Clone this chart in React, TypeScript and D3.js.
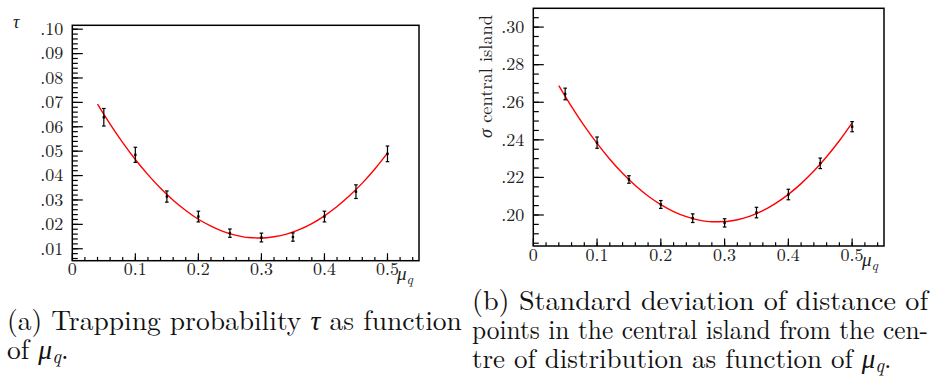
import React from "react";
import * as d3 from "d3";

// ---------- data ----------
const muQ = [0.05, 0.1, 0.15, 0.2, 0.25, 0.3, 0.35, 0.4, 0.45, 0.5];
const tauValues = [0.0639, 0.0485, 0.0314, 0.0232, 0.0164, 0.0146, 0.0148, 0.0232, 0.0334, 0.0489];
const tauErrors = [0.0036, 0.0031, 0.0023, 0.0022, 0.0017, 0.0018, 0.0017, 0.0022, 0.0028, 0.0032];
const sigmaValues = [0.2644, 0.2385, 0.2189, 0.2056, 0.1983, 0.1958, 0.2013, 0.2109, 0.2275, 0.247];
const sigmaErrors = [0.0031, 0.003, 0.002, 0.0021, 0.0023, 0.0022, 0.0028, 0.0028, 0.0028, 0.0027];

// fit curves
const fitX = [0.04, 0.06, 0.08, 0.1, 0.12, 0.14, 0.16, 0.18, 0.2, 0.22, 0.24, 0.26, 0.28, 0.3, 0.32, 0.34, 0.36, 0.38, 0.4, 0.42, 0.44, 0.46, 0.48, 0.5];
const tauFit = [0.0693, 0.0611, 0.0535, 0.0466, 0.0404, 0.0348, 0.0299, 0.0257, 0.0221, 0.0193, 0.017, 0.0155, 0.0146, 0.0144, 0.0149, 0.016, 0.0178, 0.0203, 0.0235, 0.0273, 0.0318, 0.0369, 0.0427, 0.0492];
const sigmaFit = [0.2689, 0.2577, 0.2474, 0.2381, 0.2297, 0.2222, 0.2157, 0.2101, 0.2055, 0.2018, 0.1991, 0.1973, 0.1964, 0.1965, 0.1975, 0.1994, 0.2023, 0.2062, 0.211, 0.2167, 0.2234, 0.231, 0.2395, 0.249];

const xTicks = [0, 0.1, 0.2, 0.3, 0.4, 0.5];
const xTickLabels = ["0", "0.1", "0.2", "0.3", "0.4", "0.5"];
const tauTicks = [0.01, 0.02, 0.03, 0.04, 0.05, 0.06, 0.07, 0.08, 0.09, 0.1];
const tauTickLabels = [".01", ".02", ".03", ".04", ".05", ".06", ".07", ".08", ".09", ".10"];
const sigmaTicks = [0.2, 0.22, 0.24, 0.26, 0.28, 0.3];
const sigmaTickLabels = [".20", ".22", ".24", ".26", ".28", ".30"];

const fontStyle = { fontFamily: "Latin Modern Roman" };
const greekStyle = { fontFamily: "Liberation Serif", fontStyle: "italic" as const };
const italStyle = { fontFamily: "Latin Modern Roman", fontStyle: "italic" as const };

type PanelProps = {
  x0: number; x1: number; yTop: number; yBot: number;
  yDomain: [number, number];
  values: number[]; errors: number[]; fit: number[];
  yTicks: number[]; yTickLabels: string[];
  yMinorStep: number; yMinorStart: number; yMinorEnd: number;
  muLabelX: number;
};

function Panel(p: PanelProps) {
  const x = d3.scaleLinear().domain([0, 0.55]).range([p.x0, p.x1]);
  const y = d3.scaleLinear().domain(p.yDomain).range([p.yBot, p.yTop]);
  const xMinor = d3.range(0.02, 0.55, 0.02);
  const yMinor = d3.range(p.yMinorStart, p.yMinorEnd + 1e-9, p.yMinorStep);
  const line = d3.line<number>().x((_, i) => x(fitX[i])).y((d) => y(d)).curve(d3.curveMonotoneX);
  return (
    <g>
      <path d={line(p.fit) || ""} fill="none" stroke="#ff0000" strokeWidth={1.4} />
      {muQ.map((m, i) => {
        const cx = x(m);
        const yl = y(p.values[i] - p.errors[i]);
        const yh = y(p.values[i] + p.errors[i]);
        return (
          <g key={i} stroke="#000" strokeWidth={1.2}>
            <line x1={cx} x2={cx} y1={yl} y2={yh} />
            <line x1={cx - 1.8} x2={cx + 1.8} y1={yl} y2={yl} />
            <line x1={cx - 1.8} x2={cx + 1.8} y1={yh} y2={yh} />
            <rect x={cx - 1.2} y={y(p.values[i]) - 1.2} width={2.4} height={2.4} fill="#000" stroke="none" />
          </g>
        );
      })}
      <rect x={p.x0} y={p.yTop} width={p.x1 - p.x0} height={p.yBot - p.yTop} fill="none" stroke="#000" strokeWidth={1.5} />
      {xMinor.map((t, i) => (
        <line key={"xm" + i} x1={x(t)} x2={x(t)} y1={p.yBot} y2={p.yBot - 3.8} stroke="#000" strokeWidth={1.2} />
      ))}
      {xTicks.map((t, i) => (
        <line key={"xM" + i} x1={x(t)} x2={x(t)} y1={p.yBot} y2={p.yBot - 7.5} stroke="#000" strokeWidth={1.2} />
      ))}
      {xTicks.map((t, i) => (
        <text key={"xl" + i} x={x(t)} y={p.yBot + 14.5} textAnchor="middle" fontSize={18} style={fontStyle} fill="#222">
          {xTickLabels[i]}
        </text>
      ))}
      {yMinor.map((t, i) => (
        <line key={"ym" + i} x1={p.x0} x2={p.x0 + 5.5} y1={y(t)} y2={y(t)} stroke="#000" strokeWidth={1.2} />
      ))}
      {p.yTicks.map((t, i) => (
        <line key={"yM" + i} x1={p.x0} x2={p.x0 + 10.5} y1={y(t)} y2={y(t)} stroke="#000" strokeWidth={1.2} />
      ))}
      {p.yTicks.map((t, i) => (
        <text key={"yl" + i} x={p.x0 - 9} y={y(t) + 5.8} textAnchor="end" fontSize={18} style={fontStyle} fill="#222">
          {p.yTickLabels[i]}
        </text>
      ))}
      <text x={p.muLabelX} y={p.yBot + 19.5} fontSize={19} style={greekStyle} fill="#222">
        μ<tspan dy={4} fontSize={14} style={italStyle}>q</tspan>
      </text>
    </g>
  );
}

export default function App() {
  return (
    <svg width={934} height={383} style={{ display: "block", position: "absolute", left: 0, top: 0, background: "#fff" }}>
      <rect x={0} y={0} width={934} height={383} fill="#fff" />
      <Panel
        x0={72.3} x1={419} yTop={25.3} yBot={260.7}
        yDomain={[0.0051, 0.1016]}
        values={tauValues} errors={tauErrors} fit={tauFit}
        yTicks={tauTicks} yTickLabels={tauTickLabels}
        yMinorStep={0.002} yMinorStart={0.006} yMinorEnd={0.1}
        muLabelX={397}
      />
      <text x={13} y={28} fontSize={18} style={greekStyle} fill="#222">τ</text>

      <Panel
        x0={533.3} x1={884} yTop={8.3} yBot={246}
        yDomain={[0.1835, 0.31]}
        values={sigmaValues} errors={sigmaErrors} fit={sigmaFit}
        yTicks={sigmaTicks} yTickLabels={sigmaTickLabels}
        yMinorStep={0.005} yMinorStart={0.185} yMinorEnd={0.305}
        muLabelX={862}
      />
      <text transform="translate(492,15) rotate(-90)" textAnchor="end" fontSize={18} style={fontStyle} fill="#222"
        textLength={123} lengthAdjust="spacingAndGlyphs">
        <tspan style={greekStyle}>σ</tspan> central island
      </text>

      <g style={fontStyle} fontSize={27.5} fill="#111">
        <text x={7} y={329.5}>
          (a) Trapping probability <tspan style={greekStyle}>τ</tspan> as function
        </text>
        <text x={7} y={358.5}>
          of <tspan style={greekStyle}>μ</tspan><tspan style={italStyle} fontSize={19} dy={4}>q</tspan><tspan dy={-4}>.</tspan>
        </text>
        <text x={472} y={309.5} textLength={456} lengthAdjust="spacingAndGlyphs">
          (b) Standard deviation of distance of
        </text>
        <text x={472} y={338.5} textLength={456} lengthAdjust="spacingAndGlyphs" fontSize={27}>
          points in the central island from the cen-
        </text>
        <text x={472} y={367.5} fontSize={27}>
          tre of distribution as function of <tspan style={greekStyle}>μ</tspan><tspan style={italStyle} fontSize={19} dy={4}>q</tspan><tspan dy={-4}>.</tspan>
        </text>
      </g>
    </svg>
  );
}
